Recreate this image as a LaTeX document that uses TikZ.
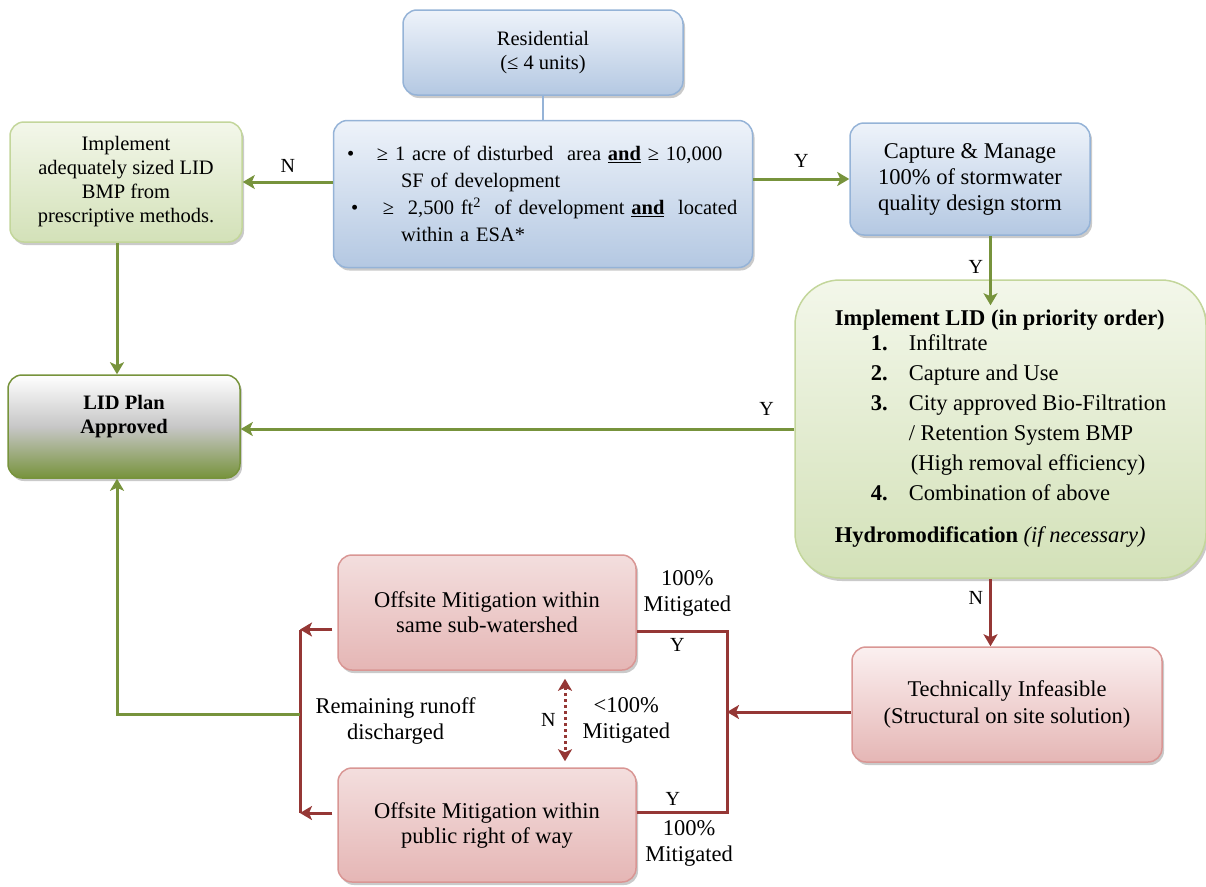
\documentclass[tikz,border=0pt]{standalone}
\usepackage{fontspec}
\setmainfont{Liberation Serif}
\usepackage{tikz}
\usetikzlibrary{arrows.meta, positioning, shadows}

\definecolor{bluetop}{HTML}{EEF3FA}
\definecolor{bluebot}{HTML}{B4C8E2}
\definecolor{blueline}{HTML}{95B3D7}
\definecolor{greentop}{HTML}{F3F7EA}
\definecolor{greenbot}{HTML}{D3E1B8}
\definecolor{greenline}{HTML}{C3D69B}
\definecolor{pinktop}{HTML}{FBF0F0}
\definecolor{pinkbot}{HTML}{E5B6B5}
\definecolor{pinkline}{HTML}{D99694}
\definecolor{arrgreen}{HTML}{77933C}
\definecolor{arrred}{HTML}{953735}

\newcommand{\lidstep}[2]{\hspace*{36pt}\makebox[38pt][l]{\textbf{#1}}#2}

\begin{document}
\begin{tikzpicture}[x=1pt, y=-1pt,
    box/.style={rectangle, rounded corners=14pt, align=center, line width=1.5pt, inner sep=0pt,
        drop shadow={shadow xshift=2pt, shadow yshift=-3pt, opacity=0.35, fill=black!60}},
    bluebox/.style={box, draw=blueline, top color=bluetop, bottom color=bluebot},
    greenbox/.style={box, draw=greenline, top color=greentop, bottom color=greenbot},
    pinkbox/.style={box, draw=pinkline, top color=pinktop, bottom color=pinkbot},
    small/.style={font=\fontsize{20.5}{24}\selectfont},
    big/.style={font=\fontsize{22.5}{26}\selectfont},
    lbl/.style={font=\fontsize{20}{24}\selectfont, inner sep=2pt},
    biglbl/.style={font=\fontsize{22.5}{26}\selectfont, align=center, inner sep=2pt},
    garrow/.style={draw=arrgreen, line width=3pt, -{Stealth[length=12pt, width=14pt, inset=3pt]}},
    rarrow/.style={draw=arrred, line width=3pt, -{Stealth[length=12pt, width=14pt, inset=3pt]}},
    rline/.style={draw=arrred, line width=3pt},
    dotarrow/.style={draw=arrred, line width=3pt, dash pattern=on 3pt off 3pt,
        {Stealth[length=12pt, width=14pt, inset=3pt]}-{Stealth[length=12pt, width=14pt, inset=3pt]}}]
    \useasboundingbox (0,0) rectangle (1206,886);

    % top of the chart
    \node[bluebox, small, minimum width=280pt, minimum height=85pt] (res) at (543,52.5) {Residential\\(≤ 4 units)};
    \node[bluebox, font=\fontsize{20.5}{27}\selectfont, align=left, text width=392pt, minimum width=419pt, minimum height=147pt, below=24pt of res] (crit) {%
        \makebox[30pt][l]{\textbullet}≥ 1 acre of disturbed\ \ area \underline{\textbf{and}}\ ≥ 10,000\\
        \hspace*{54pt}SF of development\\
        \hspace*{4pt}\makebox[32pt][l]{\textbullet}≥\ \ 2,500 ft\textsuperscript{2}\ \ of development \underline{\textbf{and}}\ \ located\\
        \hspace*{54pt}within a ESA*};
    \node[greenbox, small, minimum width=232pt, minimum height=120pt] (impl) at (126,182) {Implement\\adequately sized LID\\BMP from\\prescriptive methods.};
    \node[bluebox, big, minimum width=240pt, minimum height=112pt] (cap) at (970,179) {Capture \& Manage\\100\% of stormwater\\quality design storm};

    % middle
    \node[box, draw=arrgreen, top color=white, bottom color=arrgreen, middle color=black!22!white, font=\bfseries\fontsize{20.5}{24}\selectfont,
        minimum width=232pt, minimum height=103pt] (plan) at (124,426.5) {LID Plan\\Approved\\\mbox{}};
    \node[greenbox, rounded corners=45pt, align=left, font=\fontsize{22.5}{30}\selectfont,
        minimum width=411pt, minimum height=298pt] (lid) at (1000.5,429) {%
        \textbf{Implement LID (in priority order)}\\[-5pt]
        \lidstep{1.}{Infiltrate}\\
        \lidstep{2.}{Capture and Use}\\
        \lidstep{3.}{City approved Bio-Filtration}\\
        \hspace*{74pt}/ Retention System BMP\\
        \hspace*{76pt}(High removal efficiency)\\
        \lidstep{4.}{Combination of above}\\[12pt]
        \textbf{Hydromodification} \textit{(if necessary)}};

    % bottom
    \node[pinkbox, font=\fontsize{22.5}{27}\selectfont, minimum width=310pt, minimum height=115pt] (tech) at (1007,704.5) {Technically Infeasible\\(Structural on site solution)};
    \node[pinkbox, top color=pinkbot!45, font=\fontsize{22.5}{25}\selectfont, minimum width=298pt, minimum height=115pt] (off1) at (487,612.5) {Offsite Mitigation within\\same sub-watershed};
    \node[pinkbox, top color=pinkbot!45, font=\fontsize{22.5}{25}\selectfont, minimum width=298pt, minimum height=114pt] (off2) at (487,825) {Offsite Mitigation within\\public right of way};

    \coordinate (rbus) at (727,712);
    \coordinate (lbus) at (300,714);

    \draw[blueline, line width=2.5pt] (res.south) -- (crit.north);
    \draw[garrow] (crit.west |- impl.east) -- node[lbl, above=6pt] {N} (impl.east);
    \draw[garrow] (crit.east |- cap.west) -- node[lbl, above=8pt] {Y} (cap.west);
    \draw[garrow] ([xshift=-10pt]lid.north |- cap.south) -- node[lbl, left=4pt, pos=0.45] {Y} ([xshift=-10pt,yshift=-26pt]lid.north);
    \draw[garrow] ([xshift=-9pt]impl.south) -- ([xshift=-9pt]impl.south |- plan.north);
    \draw[garrow] (lid.west) -- node[lbl, above=10pt, pos=0.05] {Y} (lid.west -| plan.east);
    \draw[rarrow] ([xshift=-10pt]lid.south) -- node[lbl, left=4pt, pos=0.28] {N} ([xshift=-10pt]lid.south |- tech.north);
    \draw[rarrow] (tech.west |- rbus) -- (rbus);

    \draw[rline] ([yshift=-19pt]off1.east) -| node[biglbl, pos=0.28, above=12pt] {100\%\\Mitigated} node[lbl, pos=0.225, below=3pt] {Y} (rbus);
    \draw[rline] (rbus) |- node[lbl, pos=0.8, above=3pt] {Y} node[biglbl, pos=0.71, below=5pt] {100\%\\Mitigated} ([yshift=13pt]off2.east);
    \draw[dotarrow] ([xshift=78pt,yshift=-8pt]off1.south) -- node[lbl, left=6pt] {N} node[biglbl, right=14pt] {<100\%\\Mitigated} ([xshift=78pt,yshift=6pt]off2.north);

    \draw[rarrow] ([xshift=-5pt,yshift=-17pt]off1.west) -- ([yshift=-17pt]off1.west -| lbus);
    \draw[rarrow] ([xshift=-5pt,yshift=12pt]off2.west) -- ([yshift=12pt]off2.west -| lbus);
    \draw[rline] ([yshift=-17pt]off1.west -| lbus) -- node[biglbl, right=12pt] {Remaining runoff\\discharged} ([yshift=12pt]off2.west -| lbus);
    \draw[garrow] (lbus) -| ([xshift=-7pt]plan.south);
\end{tikzpicture}
\end{document}
